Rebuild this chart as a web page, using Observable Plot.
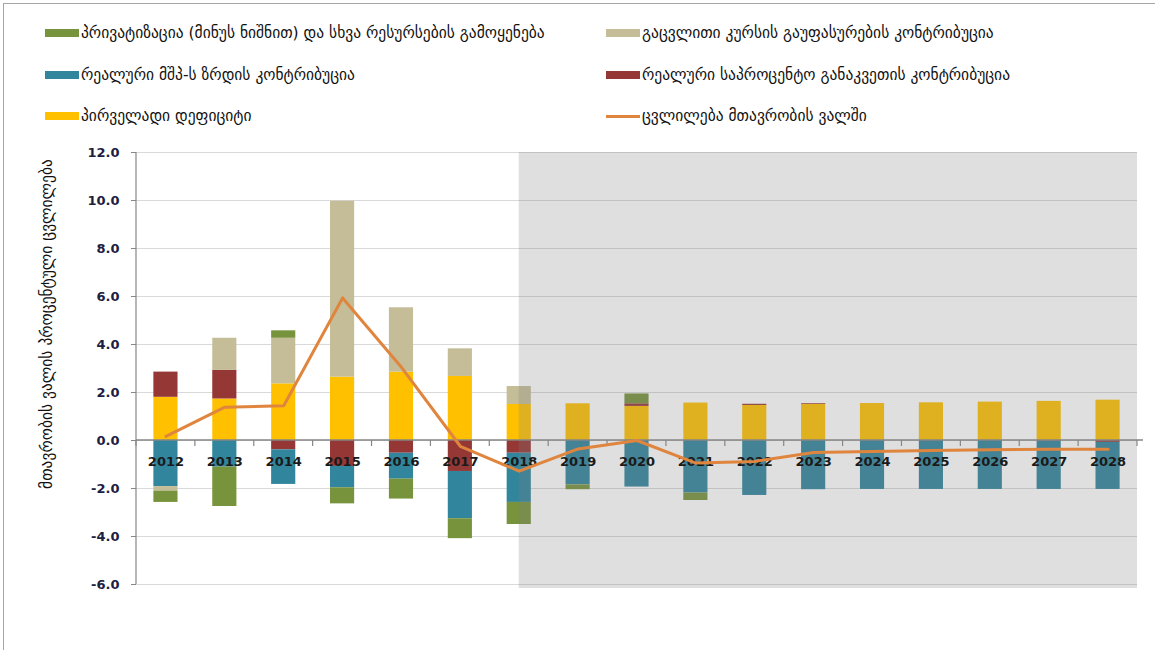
<!DOCTYPE html>
<html>
<head>
<meta charset="utf-8">
<script src="https://cdn.jsdelivr.net/npm/d3@7"></script>
<script src="https://cdn.jsdelivr.net/npm/@observablehq/plot@0.6"></script>
<style>
  html, body { margin: 0; padding: 0; background: #fff; }
  #wrap { position: relative; width: 1155px; height: 650px; overflow: hidden; font-family: "DejaVu Sans", sans-serif; }
  #frame { position: absolute; left: 3px; top: 3px; width: 1200px; height: 700px; border-left: 1.5px solid #a6a6a6; border-top: 1.5px solid #a6a6a6; }
  .lg { position: absolute; display: flex; align-items: center; font-size: 15.5px; color: #111; white-space: nowrap; }
  .sw { width: 34px; height: 8px; margin-right: 2px; flex: none; }
  .swl { width: 34px; height: 3px; margin-right: 2px; flex: none; }
  #ylab { position: absolute; left: 47px; top: 324px; writing-mode: vertical-rl; transform: translate(-50%, -50%) rotate(180deg); font-size: 15.5px; line-height: 20px; color: #111; white-space: nowrap; }
  #chart { position: absolute; left: 0; top: 140px; }
  #chart svg [aria-label="y-axis tick label"] text { font-weight: bold; }
</style>
</head>
<body>
<div id="wrap">
  <div id="frame"></div>
  <div id="legend"></div>
  <div id="ylab"></div>
  <div id="chart"></div>
</div>
<script>
// ---------- data ----------
const years = ["2012","2013","2014","2015","2016","2017","2018","2019","2020","2021","2022","2023","2024","2025","2026","2027","2028"];
const forecastFrom = "2018";

const seriesNames = [
  "პირველადი დეფიციტი",
  "რეალური საპროცენტო განაკვეთის კონტრიბუცია",
  "რეალური მშპ-ს ზრდის კონტრიბუცია",
  "გაცვლითი კურსის გაუფასურების კონტრიბუცია",
  "პრივატიზაცია (მინუს ნიშნით) და სხვა რესურსების გამოყენება"
];
const lineName = "ცვლილება მთავრობის ვალში";
const yLabel = "მთავრობის ვალის პროცენტული ცვლილება";

const primaryDeficit = [1.80, 1.73, 2.36, 2.64, 2.85, 2.67, 1.50, 1.53, 1.42, 1.56, 1.46, 1.51, 1.54, 1.57, 1.60, 1.63, 1.68];
const realRate       = [1.05, 1.19, -0.39, -1.08, -0.53, -1.29, -0.53, 0, 0.11, 0, 0.05, 0.03, 0, 0, 0, -0.03, -0.08];
const realGdp        = [-1.92, -1.11, -1.44, -0.89, -1.08, -1.97, -2.05, -1.85, -1.94, -2.19, -2.29, -2.05, -2.04, -2.04, -2.04, -2.01, -1.96];
const exchangeRate   = [-0.19, 1.34, 1.90, 7.33, 2.68, 1.15, 0.75, 0, 0, 0, 0, 0, 0, 0, 0, 0, 0];
const privatization  = [-0.47, -1.64, 0.31, -0.67, -0.83, -0.83, -0.92, -0.20, 0.41, -0.31, 0, 0, 0, 0, 0, 0, 0];
const debtChange     = [0.17, 1.39, 1.45, 5.94, 3.05, -0.24, -1.28, -0.35, 0.00, -0.94, -0.87, -0.50, -0.46, -0.42, -0.39, -0.36, -0.36];

const yTicks = [-6, -4, -2, 0, 2, 4, 6, 8, 10, 12];

const seriesColors = ["#ffc000", "#953735", "#31859c", "#c4bd97", "#77933c"];
const lineColor = "#e0853e";

// legend layout order (as in reference: row by row, two columns)
const legendOrder = [
  {name: seriesNames[4], color: seriesColors[4], type: "bar"},
  {name: seriesNames[3], color: seriesColors[3], type: "bar"},
  {name: seriesNames[2], color: seriesColors[2], type: "bar"},
  {name: seriesNames[1], color: seriesColors[1], type: "bar"},
  {name: seriesNames[0], color: seriesColors[0], type: "bar"},
  {name: lineName, color: lineColor, type: "line"}
];

// ---------- build table ----------
const valueArrays = [primaryDeficit, realRate, realGdp, exchangeRate, privatization];
const rows = [];
years.forEach((y, i) => {
  seriesNames.forEach((s, k) => {
    const v = valueArrays[k][i];
    if (v !== 0) rows.push({year: y, series: s, value: v});
  });
});
const lineRows = years.map((y, i) => ({year: y, value: debtChange[i]}));

// ---------- legend ----------
const legend = document.getElementById("legend");
const colX = [45, 606];
const rowY = [33, 75, 116];
legendOrder.forEach((it, i) => {
  const el = document.createElement("div");
  el.className = "lg";
  el.style.left = colX[i % 2] + "px";
  el.style.top = (rowY[Math.floor(i / 2)] - 10) + "px";
  el.style.height = "20px";
  const sw = document.createElement("span");
  sw.className = it.type === "bar" ? "sw" : "swl";
  sw.style.background = it.color;
  const tx = document.createElement("span");
  tx.textContent = it.name;
  el.appendChild(sw);
  el.appendChild(tx);
  legend.appendChild(el);
});
document.getElementById("ylab").textContent = yLabel;

// ---------- chart ----------
const W = 1155, H = 510;
const mL = 136, mR = 18, mT = 12, mB = 66;

function bandInfo(xs) {
  const bw = typeof xs.bandwidth === "function" ? xs.bandwidth() : (xs.bandwidth || 0);
  const step = typeof xs.step === "function" ? xs.step() : (xs(years[1]) - xs(years[0]));
  return {bw, step};
}

// shaded forecast overlay (drawn over the bars)
const overlay = (index, scales, values, dims) => {
  const xs = scales.x, ys = scales.y;
  const {bw} = bandInfo(xs);
  const x0 = xs(forecastFrom) + bw / 2;
  const x1 = dims.width - dims.marginRight;
  const y0 = ys(yTicks[yTicks.length - 1]);
  const y1 = ys(yTicks[0]) + 4;
  const g = d3.create("svg:g");
  g.append("rect").attr("x", x0).attr("y", y0).attr("width", x1 - x0).attr("height", y1 - y0)
    .attr("fill", "#808080").attr("fill-opacity", 0.25);
  return g.node();
};

// axis lines and category boundary ticks
const axisLines = (index, scales, values, dims) => {
  const xs = scales.x, ys = scales.y;
  const {bw, step} = bandInfo(xs);
  const g = d3.create("svg:g").attr("stroke", "#868686");
  const left = xs(years[0]) + bw / 2 - step / 2;
  const right = xs(years[years.length - 1]) + bw / 2 + step / 2;
  // y axis line
  g.append("line").attr("x1", left).attr("x2", left)
    .attr("y1", ys(yTicks[0])).attr("y2", ys(yTicks[yTicks.length - 1])).attr("stroke-width", 1.2);
  // zero line
  g.append("line").attr("x1", left).attr("x2", right + 6)
    .attr("y1", ys(0)).attr("y2", ys(0)).attr("stroke-width", 1.5);
  // boundary ticks
  for (let i = 0; i <= years.length; i++) {
    const bx = left + i * step;
    g.append("line").attr("x1", bx).attr("x2", bx).attr("y1", ys(0)).attr("y2", ys(0) + 6).attr("stroke-width", 1.2);
  }
  return g.node();
};

const chart = Plot.plot({
  width: W,
  height: H,
  marginLeft: mL,
  marginRight: mR,
  marginTop: mT,
  marginBottom: mB,
  style: {fontFamily: "DejaVu Sans, sans-serif", fontSize: "13px", background: "transparent", overflow: "visible"},
  x: {domain: years, paddingInner: 0.59, paddingOuter: 0.295, align: 0.5, round: false, axis: null},
  y: {domain: [yTicks[0], yTicks[yTicks.length - 1]], axis: null},
  color: {domain: seriesNames, range: seriesColors},
  marks: [
    Plot.ruleY(yTicks, {stroke: "#d9d9d9", strokeWidth: 1.2}),
    Plot.barY(rows, Plot.stackY({x: "year", y: "value", fill: "series", order: seriesNames, inset: 0})),
    overlay,
    axisLines,
    Plot.axisY({ticks: yTicks, tickFormat: d => d.toFixed(1), tickSize: 5, tickPadding: 12, label: null, stroke: "#868686", fill: "#1e2040"}),
    Plot.text(years, {x: d => d, y: () => 0, dy: 21, text: d => d, fill: "#1a1a1a", fontWeight: "bold", fontSize: 13}),
    Plot.line(lineRows, {x: "year", y: "value", stroke: lineColor, strokeWidth: 3, strokeLinejoin: "round", strokeLinecap: "round"})
  ]
});
document.getElementById("chart").appendChild(chart);
</script>
</body>
</html>
